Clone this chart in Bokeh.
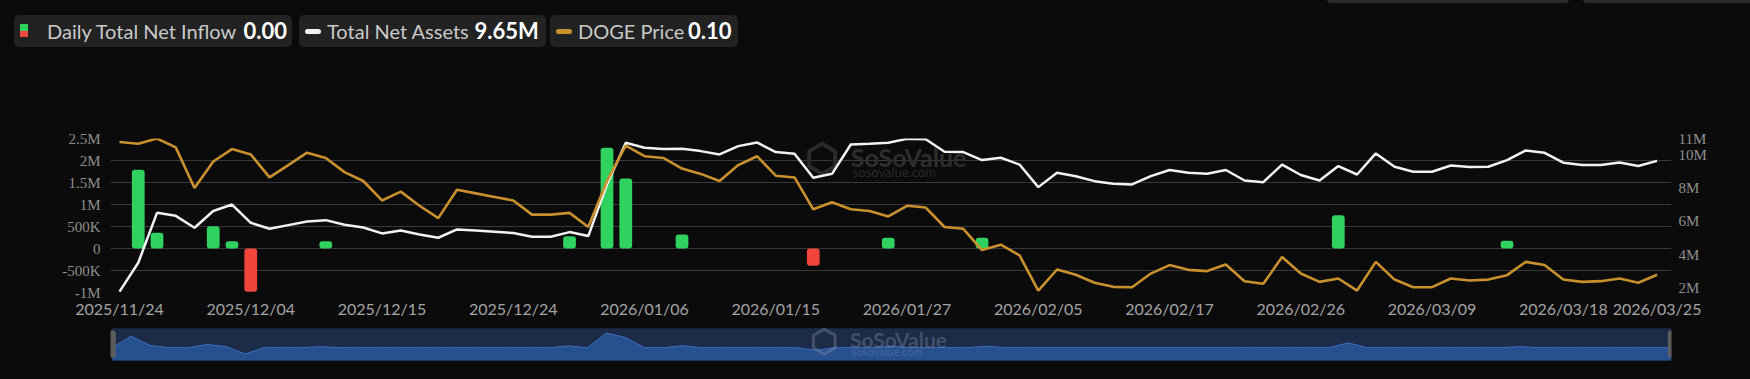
from bokeh.plotting import figure
from bokeh.models import Range1d, LinearAxis, FixedTicker, BoxAnnotation, Label, ColumnDataSource, Div
from bokeh.layouts import column
from bokeh.embed import file_html
from bokeh.resources import INLINE

# ---------------- data ----------------
dates = [
    "2025/11/24", "2025/11/25", "2025/11/26", "2025/11/28", "2025/12/01", "2025/12/02", "2025/12/03",
    "2025/12/04", "2025/12/05", "2025/12/08", "2025/12/09", "2025/12/10", "2025/12/11", "2025/12/12",
    "2025/12/15", "2025/12/16", "2025/12/17", "2025/12/18", "2025/12/19", "2025/12/22", "2025/12/23",
    "2025/12/24", "2025/12/26", "2025/12/29", "2025/12/30", "2025/12/31", "2026/01/02", "2026/01/05",
    "2026/01/06", "2026/01/07", "2026/01/08", "2026/01/09", "2026/01/12", "2026/01/13", "2026/01/14",
    "2026/01/15", "2026/01/16", "2026/01/20", "2026/01/21", "2026/01/22", "2026/01/23", "2026/01/26",
    "2026/01/27", "2026/01/28", "2026/01/29", "2026/01/30", "2026/02/02", "2026/02/03", "2026/02/04",
    "2026/02/05", "2026/02/06", "2026/02/09", "2026/02/10", "2026/02/11", "2026/02/12", "2026/02/13",
    "2026/02/17", "2026/02/18", "2026/02/19", "2026/02/20", "2026/02/23", "2026/02/24", "2026/02/25",
    "2026/02/26", "2026/02/27", "2026/03/02", "2026/03/03", "2026/03/04", "2026/03/05", "2026/03/06",
    "2026/03/09", "2026/03/10", "2026/03/11", "2026/03/12", "2026/03/13", "2026/03/16", "2026/03/17",
    "2026/03/18", "2026/03/19", "2026/03/20", "2026/03/23", "2026/03/24", "2026/03/25",
]

# daily total net inflow (USD)
daily_net_inflow = [
    0, 1790000, 356000, 0, 0, 508000, 167000, -985000, 0, 0,
    0, 167000, 0, 0, 0, 0, 0, 0, 0, 0,
    0, 0, 0, 0, 280000, 0, 2290000, 1590000, 0, 0,
    318000, 0, 0, 0, 0, 0, 0, -394000, 0, 0,
    0, 242000, 0, 0, 0, 0, 242000, 0, 0, 0,
    0, 0, 0, 0, 0, 0, 0, 0, 0, 0,
    0, 0, 0, 0, 0, 758000, 0, 0, 0, 0,
    0, 0, 0, 0, 174000, 0, 0, 0, 0, 0,
    0, 0, 0,
]

# total net assets (million USD)
total_net_assets_m = [
    1.77, 3.51, 6.52, 6.34, 5.62, 6.63, 7.02, 5.92, 5.56, 5.78,
    6.00, 6.08, 5.80, 5.64, 5.28, 5.46, 5.22, 5.02, 5.52, 5.46,
    5.38, 5.30, 5.08, 5.08, 5.36, 5.12, 8.23, 10.74, 10.44, 10.36,
    10.38, 10.24, 10.04, 10.54, 10.76, 10.18, 10.08, 8.63, 8.87, 10.64,
    10.68, 10.74, 10.98, 10.96, 10.20, 10.18, 9.70, 9.84, 9.43, 8.07,
    8.93, 8.73, 8.43, 8.27, 8.23, 8.73, 9.10, 8.93, 8.87, 9.10,
    8.47, 8.37, 9.43, 8.80, 8.47, 9.34, 8.83, 10.10, 9.30, 9.00,
    9.00, 9.37, 9.28, 9.30, 9.70, 10.28, 10.14, 9.54, 9.40, 9.40,
    9.55, 9.34, 9.65,
]

# DOGE price (USD)
doge_price = [
    0.175, 0.174, 0.177, 0.172, 0.149, 0.164, 0.171, 0.168, 0.155, 0.162,
    0.169, 0.166, 0.158, 0.153, 0.142, 0.147, 0.139, 0.132, 0.148, 0.146,
    0.144, 0.142, 0.134, 0.134, 0.135, 0.127, 0.153, 0.173, 0.167, 0.166,
    0.160, 0.157, 0.153, 0.162, 0.167, 0.156, 0.155, 0.137, 0.141, 0.137,
    0.136, 0.133, 0.139, 0.138, 0.127, 0.126, 0.114, 0.117, 0.111, 0.091,
    0.103, 0.100, 0.0955, 0.0932, 0.0930, 0.1007, 0.1055, 0.1028, 0.1021, 0.1058,
    0.0964, 0.0949, 0.110, 0.1007, 0.096, 0.0979, 0.0911, 0.1073, 0.0973, 0.0930,
    0.0930, 0.0979, 0.0968, 0.0973, 0.0998, 0.1073, 0.1055, 0.0973, 0.096, 0.0964,
    0.0979, 0.0955, 0.100,
]

left_ticks = [-1000000, -500000, 0, 500000, 1000000, 1500000, 2000000, 2500000]
left_tick_labels = ["-1M", "-500K", "0", "500K", "1M", "1.5M", "2M", "2.5M"]
right_ticks = [2000000, 4000000, 6000000, 8000000, 10000000, 11000000]
right_tick_labels = ["2M", "4M", "6M", "8M", "10M", "11M"]
x_tick_idx = [0, 7, 14, 21, 28, 35, 42, 49, 56, 63, 70, 77, 82]

legend_names = ["Daily Total Net Inflow", "Total Net Assets", "DOGE Price"]

# ---------------- styling ----------------
BG = "#0b0b0b"
GREEN = "#2fd15f"
RED = "#f0443c"
WHITE = "#f2f2f2"
ORANGE = "#c9912e"
GRID = "#383838"
W = 1750

idx = list(range(len(dates)))
assets = [v * 1e6 for v in total_net_assets_m]
bar_colors = [GREEN if v >= 0 else RED for v in daily_net_inflow]
src = ColumnDataSource(dict(x=idx, inflow=daily_net_inflow, assets=assets,
                            price=doge_price, color=bar_colors))

# ---------------- legend strip (HTML) ----------------
legend_values = [f"{daily_net_inflow[-1] / 1e6:.2f}", f"{total_net_assets_m[-1]:.2f}M",
                 f"{doge_price[-1]:.2f}"]
boxes = [(14, 278), (299, 247), (550, 188)]
name_x = [47, 327, 578]
val_x = [243.5, 474.5, 688]
parts = []
for (bl, bw) in boxes:
    parts.append(f'<div style="position:absolute;left:{bl}px;top:15px;width:{bw}px;height:32px;'
                 f'background:#222222;border-radius:5px;"></div>')
parts.append(f'<div style="position:absolute;left:20px;top:24px;width:8px;height:6.5px;background:{GREEN};"></div>')
parts.append(f'<div style="position:absolute;left:20px;top:30.5px;width:8px;height:6.5px;background:{RED};"></div>')
parts.append(f'<div style="position:absolute;left:305px;top:28.5px;width:16px;height:5px;background:{WHITE};border-radius:3px;"></div>')
parts.append(f'<div style="position:absolute;left:556px;top:28.5px;width:16px;height:5px;background:{ORANGE};border-radius:3px;"></div>')
for nx, nm in zip(name_x, legend_names):
    parts.append(f'<span style="position:absolute;left:{nx}px;top:19px;line-height:24px;font-family:Lato;'
                 f'font-size:20px;color:#c9c9c9;white-space:nowrap;">{nm}</span>')
for vx, vv in zip(val_x, legend_values):
    parts.append(f'<span style="position:absolute;left:{vx}px;top:18.5px;line-height:24px;font-family:Lato;'
                 f'font-size:22px;font-weight:bold;color:#ffffff;white-space:nowrap;">{vv}</span>')
# partially visible buttons at the top right
parts.append('<div style="position:absolute;left:1327px;top:-6px;width:242px;height:9px;background:#2a2a2a;border-radius:4px;"></div>')
parts.append('<div style="position:absolute;left:1583px;top:-6px;width:175px;height:9px;background:#2a2a2a;border-radius:4px;"></div>')
legend_html = (f'<div style="position:relative;width:{W}px;height:120px;overflow:hidden;background:{BG};">'
               + "".join(parts) + '</div>')
leg = Div(text=legend_html, width=W, height=120, margin=0)

# ---------------- main chart ----------------
p = figure(width=W, height=206, x_range=Range1d(-0.48, 82.77), y_range=Range1d(-1e6, 2.5e6),
           output_backend="svg", toolbar_location=None,
           min_border_left=110, min_border_right=79, min_border_top=18, min_border_bottom=34,
           background_fill_color=BG, border_fill_color=BG, outline_line_color=None)
p.extra_y_ranges = {"assets": Range1d(1.72e6, 11e6), "price": Range1d(0.09, 0.177)}

p.xgrid.visible = False
p.ygrid.grid_line_color = GRID
p.ygrid.grid_line_width = 1

yl = p.left[0]
yl.ticker = FixedTicker(ticks=left_ticks)
yl.major_label_overrides = {float(t): s for t, s in zip(left_ticks, left_tick_labels)}
xa = p.below[0]
xa.ticker = FixedTicker(ticks=x_tick_idx)
xa.major_label_overrides = {float(i): dates[i] for i in x_tick_idx}

yr = LinearAxis(y_range_name="assets", ticker=FixedTicker(ticks=right_ticks))
yr.major_label_overrides = {float(t): s for t, s in zip(right_ticks, right_tick_labels)}
p.add_layout(yr, "right")

for ax in (yl, yr):
    ax.axis_line_color = None
    ax.major_tick_line_color = None
    ax.minor_tick_line_color = None
    ax.major_tick_out = 0
    ax.major_tick_in = 0
    ax.major_label_text_color = "#8e8e8e"
    ax.major_label_text_font = "Liberation Serif"
    ax.major_label_text_font_size = "15px"
yl.major_label_standoff = 10
yr.major_label_standoff = 7

xa.axis_line_color = None
xa.major_tick_line_color = None
xa.minor_tick_line_color = None
xa.major_tick_out = 0
xa.major_tick_in = 0
xa.major_label_standoff = 6
xa.major_label_text_color = "#a4a4a4"
xa.major_label_text_font = "Lato"
xa.major_label_text_font_size = "16px"

# watermark
p.scatter(x=[37.47], y=[2.04e6], marker="hex", size=30, angle=0.5236, fill_color=None,
          line_color="#2a2a2a", line_width=4)
p.add_layout(Label(x=39.0, y=2.08e6, text="SoSoValue", text_font="Lato", text_font_style="bold",
                   text_font_size="25px", text_color="#2e2e2e", text_baseline="middle"))
p.add_layout(Label(x=39.1, y=1.73e6, text="sosovalue.com", text_font="Lato",
                   text_font_size="13px", text_color="#2a2a2a", text_baseline="middle"))

p.vbar(x="x", top="inflow", bottom=0, width=0.68, fill_color="color", line_color=None,
       border_radius=3, source=src)
p.line(x="x", y="assets", y_range_name="assets", line_color=WHITE, line_width=2.5, source=src)
p.line(x="x", y="price", y_range_name="price", line_color=ORANGE, line_width=2.6, source=src)

# ---------------- slider (data zoom) ----------------
s = figure(width=W, height=53, x_range=Range1d(-0.084, 82.0), y_range=Range1d(-4.971e6, 3.316e6),
           x_axis_type=None, y_axis_type=None, output_backend="svg", toolbar_location=None,
           min_border_left=110, min_border_right=79, min_border_top=0, min_border_bottom=0,
           background_fill_color=BG, border_fill_color=BG, outline_line_color=None)
s.grid.visible = False
s.add_layout(BoxAnnotation(left=0, right=82, bottom=-2e6, top=3.05e6, fill_color="#1c2b48",
                           fill_alpha=1, line_color=None, level="underlay"))
s.varea(x="x", y1=-2e6, y2="inflow", fill_color="#27508f", source=src)
s.line(x="x", y="inflow", line_color="#3f6fc2", line_width=1, source=src)
s.scatter(x=[37.45], y=[0.95e6], marker="hex", size=25, angle=0.5236, fill_color=None,
          line_color="#8a96ad", line_alpha=0.35, line_width=3)
s.add_layout(Label(x=38.8, y=1.35e6, text="SoSoValue", text_font="Lato", text_font_style="bold",
                   text_font_size="21px", text_color="#8a96ad", text_alpha=0.35, text_baseline="middle"))
s.add_layout(Label(x=38.9, y=-0.65e6, text="sosovalue.com", text_font="Lato",
                   text_font_size="11px", text_color="#8a96ad", text_alpha=0.35, text_baseline="middle"))
for hx in (0, 82):
    s.add_layout(BoxAnnotation(left=hx - 0.18, right=hx + 0.18, bottom=-1.55e6, top=2.7e6,
                               fill_color="#5c5c5c", fill_alpha=1, line_color="#7a7a7a",
                               border_radius=3))

layout = column(leg, p, s, spacing=0)

html = file_html(layout, INLINE)
html = html.replace("</head>", "<style>html,body{background:#0b0b0b;}</style></head>", 1)
open("out.html", "w").write(html)
